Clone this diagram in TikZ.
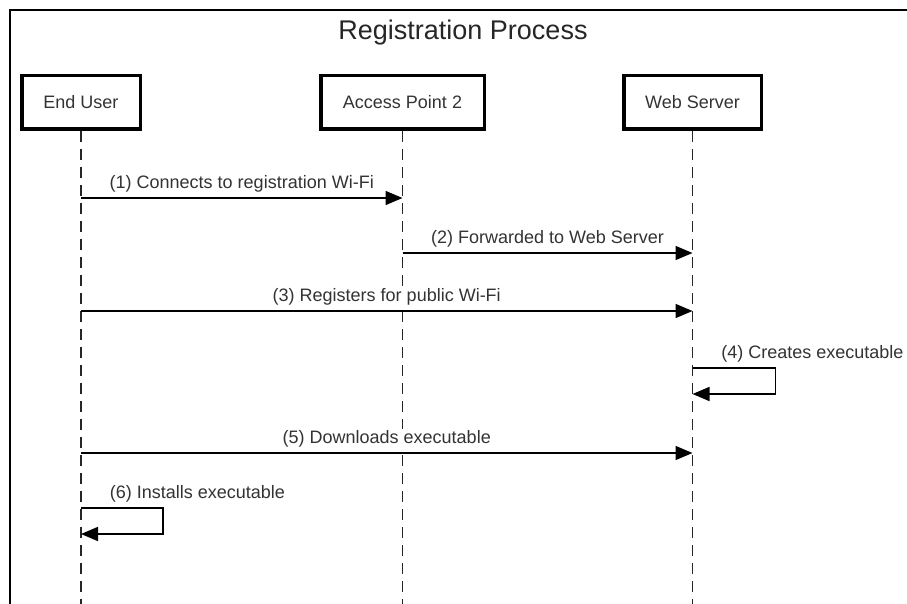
\documentclass[tikz,border=0pt]{standalone}
\usepackage{fontspec}
\setmainfont{Liberation Sans}
\usetikzlibrary{arrows.meta}

\begin{document}
\begin{tikzpicture}[x=1pt, y=-1pt,
	actor/.style={draw, line width=3.5pt, minimum height=53.5pt, inner sep=0pt, font=\fontsize{18}{21}\selectfont, text=black!80},
	lifeline/.style={draw=black!85, line width=1.6pt, dash pattern=on 11pt off 7pt},
	msg/.style={draw, line width=1.6pt, -{Triangle[length=17pt, width=14pt]}},
	lbl/.style={anchor=south, yshift=4pt, inner sep=1pt, fill=white, font=\fontsize{18}{21}\selectfont, text=black!80}]
	\clip (0,0) rectangle (907,604);
	% frame and title
	\draw [line width=2.2pt] (10,620) -- (10,10) -- (930,10) -- (930,620) -- cycle;
	\node (title) at (463,33) [font=\fontsize{27}{31}\selectfont, text=black!85] {Registration Process};
	% participants
	\node (user) at (81,102.5) [actor, minimum width=118.5pt] {End User};
	\node (ap) at (402.5,102.5) [actor, minimum width=163.5pt] {Access Point 2};
	\node (server) at (692.5,102.5) [actor, minimum width=137.5pt] {Web Server};
	% lifelines
	\draw [lifeline] (user.south) -- (user.south |- 0,610);
	\draw [lifeline] (ap.south) -- (ap.south |- 0,610);
	\draw [lifeline] (server.south) -- (server.south |- 0,610);
	% messages
	\draw [msg] (user |- 0,198) -- node (m1) [lbl] {(1) Connects to registration Wi-Fi} (ap |- 0,198);
	\draw [msg] (ap |- 0,253) -- node (m2) [lbl] {(2) Forwarded to Web Server} (server |- 0,253);
	\draw [msg] (user |- 0,311) -- node (m3) [lbl] {(3) Registers for public Wi-Fi} (server |- 0,311);
	\draw [msg] (server |- 0,368) node (m4) [lbl, anchor=south west, xshift=27pt] {(4) Creates executable}
		-- ++(83,0) -- ++(0,26) -- (server |- 0,394);
	\draw [msg] (user |- 0,453) -- node (m5) [lbl] {(5) Downloads executable} (server |- 0,453);
	\draw [msg] (user |- 0,508) node (m6) [lbl, anchor=south west, xshift=27pt] {(6) Installs executable}
		-- ++(82,0) -- ++(0,26) -- (user |- 0,534);
\end{tikzpicture}
\end{document}
